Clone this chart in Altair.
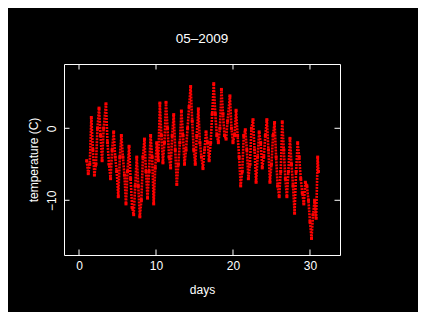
import altair as alt
import pandas as pd

# readings (day of month, temperature in C)
days = [1.0, 1.2, 1.4, 1.6, 1.8, 2.0, 2.2, 2.4, 2.6, 2.8, 3.0, 3.2, 3.5, 3.7, 3.9,
        4.1, 4.3, 4.5, 4.7, 4.9, 5.1, 5.3, 5.5, 5.7, 5.9, 6.1, 6.3, 6.5, 6.7, 6.9,
        7.1, 7.3, 7.5, 7.7, 7.9, 8.1, 8.3, 8.5, 8.7, 8.9, 9.1, 9.3, 9.5, 9.7, 9.9,
        10.1, 10.3, 10.5, 10.7, 10.9, 11.1, 11.3, 11.5, 11.7, 11.9, 12.1, 12.3, 12.5,
        12.7, 12.9, 13.1, 13.3, 13.5, 13.7, 13.9, 14.1, 14.3, 14.5, 14.7, 14.9, 15.1,
        15.3, 15.5, 15.7, 15.9, 16.1, 16.3, 16.5, 16.7, 16.9, 17.1, 17.3, 17.5, 17.7,
        17.9, 18.1, 18.3, 18.5, 18.7, 18.9, 19.1, 19.3, 19.6, 19.8, 20.0, 20.2, 20.4,
        20.6, 20.8, 21.0, 21.2, 21.4, 21.6, 21.8, 22.0, 22.2, 22.4, 22.6, 22.8, 23.0,
        23.2, 23.4, 23.6, 23.8, 24.0, 24.2, 24.4, 24.6, 24.8, 25.0, 25.2, 25.4, 25.6,
        25.8, 26.0, 26.2, 26.4, 26.6, 26.8, 27.0, 27.2, 27.4, 27.6, 27.8, 28.0, 28.2,
        28.4, 28.6, 28.8, 29.0, 29.2, 29.4, 29.6, 29.8, 30.0, 30.2, 30.4, 30.6, 30.8,
        31.0, 31.1]
temp = [-4.5, -6.3, -5.0, 1.5, -3.0, -6.5, -5.0, 0.0, 2.8, -1.0, -4.5, 0.0, 3.4, -2.0, -5.0,
        -7.0, -3.0, -0.5, -4.0, -6.0, -9.5, -4.0, -1.0, -4.0, -6.5, -10.5, -6.0, -2.5, -7.0, -11.0,
        -12.0, -8.0, -4.0, -8.0, -12.3, -10.0, -4.0, -1.5, -6.0, -9.7, -6.0, -1.0, -4.0, -10.5, -5.5,
        -2.0, -4.5, 3.5, -1.0, -4.8, -2.0, 3.6, 0.0, -4.0, -5.5, -1.0, 1.9, -3.0,
        -7.8, -5.0, -2.0, 2.4, -1.0, -5.0, -3.0, 0.0, 3.0, 5.8, 1.0, -3.0, -5.0,
        -1.0, 2.7, -2.0, -4.0, -5.6, -3.0, -0.5, -2.0, -4.5, -2.0, 2.0, 6.2, 2.0,
        -1.0, -2.0, 0.0, 5.4, 2.0, -1.0, -1.5, 1.0, 4.5, 0.0, -2.0, -1.0, 2.5,
        -1.0, -4.0, -8.0, -6.0, -1.0, -0.2, -3.0, -7.0, -5.0, 0.0, 1.2, -3.0, -7.5,
        -4.0, -0.5, -2.0, -5.5, -4.0, -1.0, 1.2, -3.0, -7.5, -5.0, -1.0, 0.8, -4.0,
        -8.0, -9.5, -6.0, 0.9, -3.0, -7.0, -9.5, -6.0, -1.4, -5.0, -8.0, -11.8, -6.0,
        -2.0, -4.0, -7.0, -9.0, -10.5, -7.5, -8.0, -10.0, -13.0, -15.3, -12.0, -10.0, -12.5,
        -4.0, -6.0]

x_ticks = [0, 10, 20, 30]
y_ticks = [-10, 0]

W, H = 276, 191
FONT = "Liberation Sans"

df = pd.DataFrame({"day": days, "temp": temp})
xt = pd.DataFrame({"v": x_ticks})
yt = pd.DataFrame({"v": y_ticks})

xs = alt.Scale(domain=[-1.95, 33.9], nice=False, zero=False)
ys = alt.Scale(domain=[-17.6, 8.93], nice=False, zero=False)

x_axis = alt.Axis(values=x_ticks, ticks=False, domain=False, grid=False,
                  labelColor="white", labelFont=FONT, labelFontSize=12, labelPadding=5,
                  title="days", titleColor="white", titleFont=FONT, titleFontSize=12,
                  titleFontWeight="normal", titleBaseline="alphabetic", titleX=W / 2, titleY=38.5)
y_axis = alt.Axis(values=y_ticks, ticks=False, domain=False, grid=False,
                  labelColor="white", labelFont=FONT, labelFontSize=12, labelAngle=270,
                  labelAlign="center", labelBaseline="alphabetic", labelPadding=9,
                  title="temperature (C)", titleColor="white", titleFont=FONT, titleFontSize=12,
                  titleFontWeight="normal", titleAngle=270, titleBaseline="alphabetic",
                  titleX=-27, titleY=H / 2, titleAlign="center")

base = alt.Chart(df)
line = base.mark_line(color="#ff0000", strokeWidth=2.6, strokeDash=[2, 1], strokeCap="butt").encode(
    x=alt.X("day:Q", scale=xs, axis=x_axis),
    y=alt.Y("temp:Q", scale=ys, axis=y_axis),
    order="day:Q",
)
pts = base.mark_square(color="#ff0000", size=9, opacity=1).encode(
    x=alt.X("day:Q", scale=xs),
    y=alt.Y("temp:Q", scale=ys),
)

tl = 5.5
bt = alt.Chart(xt).mark_rule(color="white").encode(x=alt.X("v:Q", scale=xs), y=alt.value(H), y2=alt.value(H - tl))
tt = alt.Chart(xt).mark_rule(color="white").encode(x=alt.X("v:Q", scale=xs), y=alt.value(0), y2=alt.value(tl))
lt = alt.Chart(yt).mark_rule(color="white").encode(y=alt.Y("v:Q", scale=ys), x=alt.value(0), x2=alt.value(tl))
rt = alt.Chart(yt).mark_rule(color="white").encode(y=alt.Y("v:Q", scale=ys), x=alt.value(W), x2=alt.value(W - tl))

chart = alt.layer(line, pts, bt, tt, lt, rt).properties(
    width=W, height=H,
    title=alt.TitleParams("05–2009", color="white", font=FONT, fontSize=13.5,
                          fontWeight="normal", anchor="middle", baseline="alphabetic", offset=7),
    autosize=alt.AutoSizeParams(type="none"),
    padding={"left": 56, "top": 56, "right": 78, "bottom": 57},
    background="black",
).configure_view(stroke="white", strokeWidth=1)

chart.save("out.html", embed_options={"renderer": "svg", "actions": False})
